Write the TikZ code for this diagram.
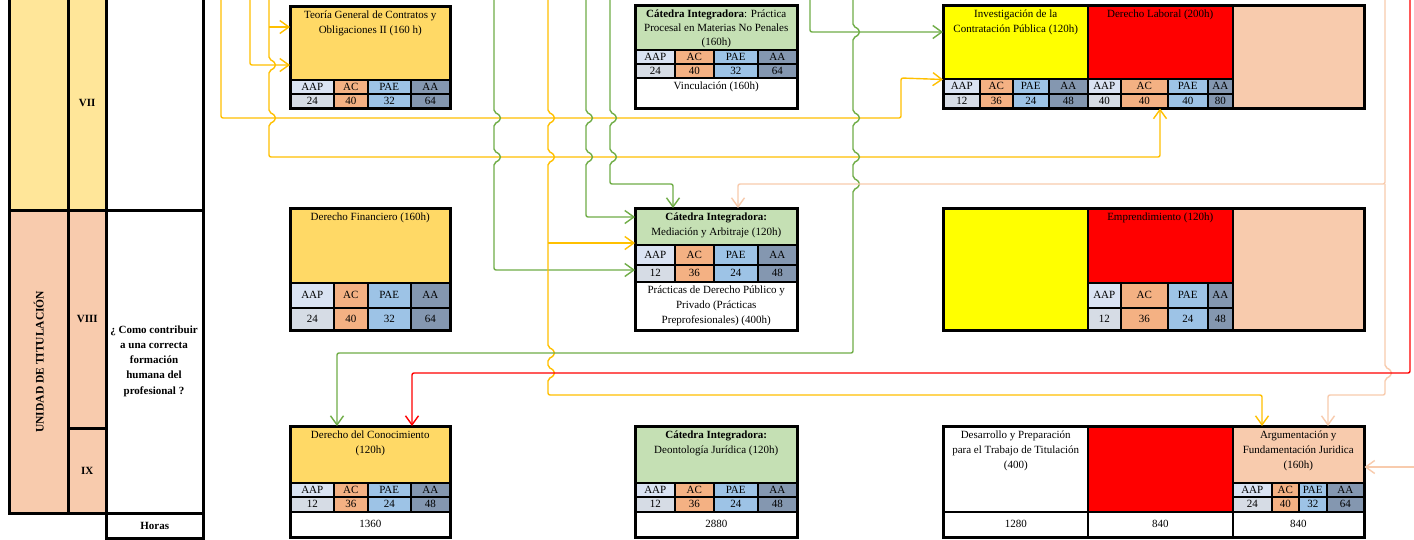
\documentclass[tikz,border=0pt]{standalone}
\usepackage{fontspec}
\setmainfont{Liberation Serif}
\usetikzlibrary{arrows.meta}
\definecolor{cGold}{HTML}{FFD966}
\definecolor{cGrn}{HTML}{C5E0B4}
\definecolor{cSal}{HTML}{F8CBAD}
\definecolor{cYel}{HTML}{FFE699}
\definecolor{cYY}{HTML}{FFFF00}
\definecolor{cRed}{HTML}{FF0000}
\definecolor{cAAPh}{HTML}{DAE3F3}
\definecolor{cAAPv}{HTML}{D6DCE5}
\definecolor{cAC}{HTML}{F4B183}
\definecolor{cPAE}{HTML}{9DC3E6}
\definecolor{cAA}{HTML}{8497B0}
\definecolor{lY}{HTML}{FFC000}
\definecolor{lG}{HTML}{70AD47}
\definecolor{lS}{HTML}{F8CBAD}
\definecolor{lR}{HTML}{FF0000}
\newcommand\cb[7]{\node[cellst, fill=#6, minimum width={(#4)-(#2)}, minimum height={(#5)-(#3)}] (#1) at (#2,#3) {#7};}
\newcommand\setx[5]{\def\xA{#1}\def\xB{#2}\def\xC{#3}\def\xD{#4}\def\xE{#5}}
\newcommand\hdrow[3]{%
\cb{#1h1}{\xA}{#2}{\xB}{#3}{cAAPh}{AAP}%
\cb{#1h2}{\xB}{#2}{\xC}{#3}{cAC}{AC}%
\cb{#1h3}{\xC}{#2}{\xD}{#3}{cPAE}{PAE}%
\cb{#1h4}{\xD}{#2}{\xE}{#3}{cAA}{AA}}
\newcommand\valrow[7]{%
\cb{#1v1}{\xA}{#2}{\xB}{#3}{cAAPv}{#4}%
\cb{#1v2}{\xB}{#2}{\xC}{#3}{cAC}{#5}%
\cb{#1v3}{\xC}{#2}{\xD}{#3}{cPAE}{#6}%
\cb{#1v4}{\xD}{#2}{\xE}{#3}{cAA}{#7}}
\newcommand\jmp[2]{-- (#1,#2-6) .. controls (#1+8,#2-2) and (#1+8,#2+2) .. (#1,#2+6)}
\begin{document}
\begin{tikzpicture}[x=1pt,y=-1pt,
  cellst/.style={draw=black, line width=1.5pt, inner sep=0pt, anchor=north west, font=\fontsize{11}{12}\selectfont},
  frm/.style={draw=black, line width=3pt},
  ttl/.style={anchor=north, align=center, inner sep=0pt, yshift=-4.5pt, font=\fontsize{11}{15}\selectfont},
  conn/.style={line width=1.4pt, rounded corners=2pt, -{Straight Barb[length=9pt,width=13pt]}}]
\useasboundingbox (0,0) rectangle (1414,539);
\fill[white] (0,0) rectangle (1414,539);

% ---------- left frame ----------
\begin{scope}[cellst/.append style={line width=2.5pt, font=\fontsize{11}{12}\selectfont\bfseries}]
\cb{u1}{8}{-5}{67}{209}{cYel}{}
\cb{u2}{67}{-5}{105}{209}{cYel}{VII}
\cb{u3}{105}{-5}{202}{209}{white}{}
\cb{u4}{8}{209}{67}{512}{cSal}{}
\cb{u5}{67}{209}{105}{427}{cSal}{VIII}
\cb{u6}{67}{427}{105}{512}{cSal}{IX}
\cb{u7}{105}{209}{202}{512}{white}{}
\cb{u8}{105}{512}{202}{537}{white}{Horas}
\end{scope}
\node[rotate=90, font=\fontsize{11.5}{12}\selectfont\bfseries] (unid) at (u4.center) {UNIDAD DE TITULACIÓN};
\node[align=center, font=\fontsize{11}{15.3}\selectfont\bfseries] (preg) at (154,361) {¿ Como contribuir\\a una correcta\\formación\\humana del\\profesional ?};

% ---------- top row ----------
\cb{A1t}{290}{6}{449}{79}{cGold}{}
\node[ttl] (A1x) at (A1t.north) {Teoría General de Contratos y\\Obligaciones II (160 h)};
\setx{290}{333}{367}{410}{449}
\hdrow{A1}{79}{93}
\valrow{A1}{93}{107}{24}{40}{32}{64}
\draw[frm] (A1t.north west) rectangle (A1v4.south east);

\cb{B1t}{635}{5}{796}{49}{cGrn}{}
\node[ttl, font=\fontsize{11}{14}\selectfont] (B1x) at (B1t.north) {\textbf{Cátedra Integradora}: Práctica\\Procesal en Materias No Penales\\(160h)};
\setx{635}{674}{713}{757}{796}
\hdrow{B1}{49}{63}
\valrow{B1}{63}{77}{24}{40}{32}{64}
\cb{B1e}{635}{77}{796}{107}{white}{}
\node[ttl] (B1y) at (B1e.north) {Vinculación (160h)};
\draw[frm] (B1t.north west) rectangle (B1e.south east);

\cb{C1y}{943}{5}{1087}{78}{cYY}{}
\node[ttl] (C1yx) at (C1y.north) {Investigación de la\\Contratación Pública (120h)};
\setx{943}{979}{1012}{1048}{1087}
\hdrow{C1y}{78}{93}
\valrow{C1y}{93}{107}{12}{36}{24}{48}
\cb{C1r}{1087}{5}{1232}{78}{cRed}{}
\node[ttl] (C1rx) at (C1r.north) {Derecho Laboral (200h)};
\setx{1087}{1120}{1167}{1207}{1232}
\hdrow{C1r}{78}{93}
\valrow{C1r}{93}{107}{40}{40}{40}{80}
\cb{C1s}{1232}{5}{1363}{107}{cSal}{}
\draw[frm] (C1y.north west) rectangle (C1s.south east);

% ---------- middle row ----------
\cb{A2t}{290}{208}{449}{282}{cGold}{}
\node[ttl] (A2x) at (A2t.north) {Derecho Financiero (160h)};
\setx{290}{333}{367}{410}{449}
\hdrow{A2}{282}{307}
\valrow{A2}{307}{329}{24}{40}{32}{64}
\draw[frm] (A2t.north west) rectangle (A2v4.south east);

\cb{B2t}{635}{208}{796}{244}{cGrn}{}
\node[ttl] (B2x) at (B2t.north) {\textbf{Cátedra Integradora:}\\Mediación y Arbitraje (120h)};
\setx{635}{674}{713}{757}{796}
\hdrow{B2}{244}{264}
\valrow{B2}{264}{281}{12}{36}{24}{48}
\cb{B2e}{635}{281}{796}{329}{white}{}
\node[ttl] (B2y) at (B2e.north) {Prácticas de Derecho Público y\\Privado (Prácticas\\Preprofesionales) (400h)};
\draw[frm] (B2t.north west) rectangle (B2e.south east);

\cb{C2y}{943}{208}{1087}{329}{cYY}{}
\cb{C2r}{1087}{208}{1232}{282}{cRed}{}
\node[ttl] (C2rx) at (C2r.north) {Emprendimiento (120h)};
\setx{1087}{1120}{1167}{1207}{1232}
\hdrow{C2r}{282}{307}
\valrow{C2r}{307}{329}{12}{36}{24}{48}
\cb{C2s}{1232}{208}{1363}{329}{cSal}{}
\draw[frm] (C2y.north west) rectangle (C2s.south east);

% ---------- bottom row ----------
\cb{A3t}{290}{426}{449}{482}{cGold}{}
\node[ttl] (A3x) at (A3t.north) {Derecho del Conocimiento\\(120h)};
\setx{290}{333}{367}{410}{449}
\hdrow{A3}{482}{496}
\valrow{A3}{496}{511}{12}{36}{24}{48}
\cb{A3e}{290}{511}{449}{536}{white}{1360}
\draw[frm] (A3t.north west) rectangle (A3e.south east);

\cb{B3t}{635}{426}{796}{482}{cGrn}{}
\node[ttl] (B3x) at (B3t.north) {\textbf{Cátedra Integradora:}\\Deontología Jurídica (120h)};
\setx{635}{674}{713}{757}{796}
\hdrow{B3}{482}{496}
\valrow{B3}{496}{511}{12}{36}{24}{48}
\cb{B3e}{635}{511}{796}{536}{white}{2880}
\draw[frm] (B3t.north west) rectangle (B3e.south east);

\cb{C3w}{943}{426}{1087}{511}{white}{}
\node[ttl] (C3wx) at (C3w.north) {Desarrollo y Preparación\\para el Trabajo de Titulación\\(400)};
\cb{C3r}{1087}{426}{1232}{511}{cRed}{}
\cb{C3s}{1232}{426}{1363}{482}{cSal}{}
\node[ttl] (C3sx) at (C3s.north) {Argumentación y\\Fundamentación Juridica\\(160h)};
\setx{1232}{1271}{1298}{1326}{1363}
\hdrow{C3s}{482}{496}
\valrow{C3s}{496}{511}{24}{40}{32}{64}
\cb{C3e1}{943}{511}{1087}{536}{white}{1280}
\cb{C3e2}{1087}{511}{1232}{536}{white}{840}
\cb{C3e3}{1232}{511}{1363}{536}{white}{840}
\draw[frm] (C3w.north west) rectangle (C3e3.south east);

% ---------- connectors ----------
\coordinate (y1s) at (221,-2);
\coordinate (y2s) at (250,-2);
\coordinate (y3s) at (269,-2);
\coordinate (y3b) at (269,27);
\coordinate (g1s) at (494,-2);
\coordinate (y4s) at (548,-2);
\coordinate (y4b) at (548,243);
\coordinate (g2s) at (586,-2);
\coordinate (g3s) at (610,-2);
\coordinate (g4s) at (810,-2);
\coordinate (g5s) at (853,-2);
\coordinate (s1s) at (1385,-2);
\coordinate (s1b) at (1385,184);
\coordinate (r1s) at (1410,-2);
\coordinate (s2s) at (1416,467);

\draw[conn, lY] (y1s) -- (221,118) -- (901,118) -- (901,78) -- (C1y.south west);
\draw[conn, lY] (y2s) -- (250,65) -- (A1t.west |- 0,65);
\draw[conn, lY] (y3b) -- (A1t.west |- y3b);
\draw[conn, lY] (y3s) \jmp{269}{65} \jmp{269}{118} -- (269,157) -- (1160,157) -- (C1rv2.south -| 1160,0);
\draw[conn, lG] (g1s) \jmp{494}{118} \jmp{494}{157} -- (494,270) -- (B2t.west |- 0,270);
\draw[conn, lY] (y4s) \jmp{548}{118} \jmp{548}{157} \jmp{548}{353} \jmp{548}{373} -- (548,395) -- (1262,395) -- (C3s.north -| 1262,0);
\draw[conn, lY] (y4b) -- (B2t.west |- y4b);
\draw[conn, lG] (g2s) \jmp{586}{118} \jmp{586}{157} -- (586,217) -- (B2t.west |- 0,217);
\draw[conn, lG] (g3s) \jmp{610}{118} \jmp{610}{157} -- (610,184) -- (673,184) -- (B2t.north -| 673,0);
\draw[conn, lG] (g4s) -- (810,32) -- (C1y.west |- 0,32);
\draw[conn, lG] (g5s) \jmp{853}{32} \jmp{853}{118} \jmp{853}{157} \jmp{853}{184} -- (853,353) -- (337,353) -- (A3t.north -| 337,0);
\draw[conn, lS] (s1s) -- (s1b) -- (738,184) -- (B2t.north -| 738,0);
\draw[conn, lS] (s1b) \jmp{1385}{373} -- (1385,395) -- (1328,395) -- (C3s.north -| 1328,0);
\draw[conn, lS] (s2s) -- (C3s.east |- s2s);
\draw[conn, lR] (r1s) -- (1410,373) -- (412,373) -- (A3t.north -| 412,0);
\end{tikzpicture}
\end{document}
